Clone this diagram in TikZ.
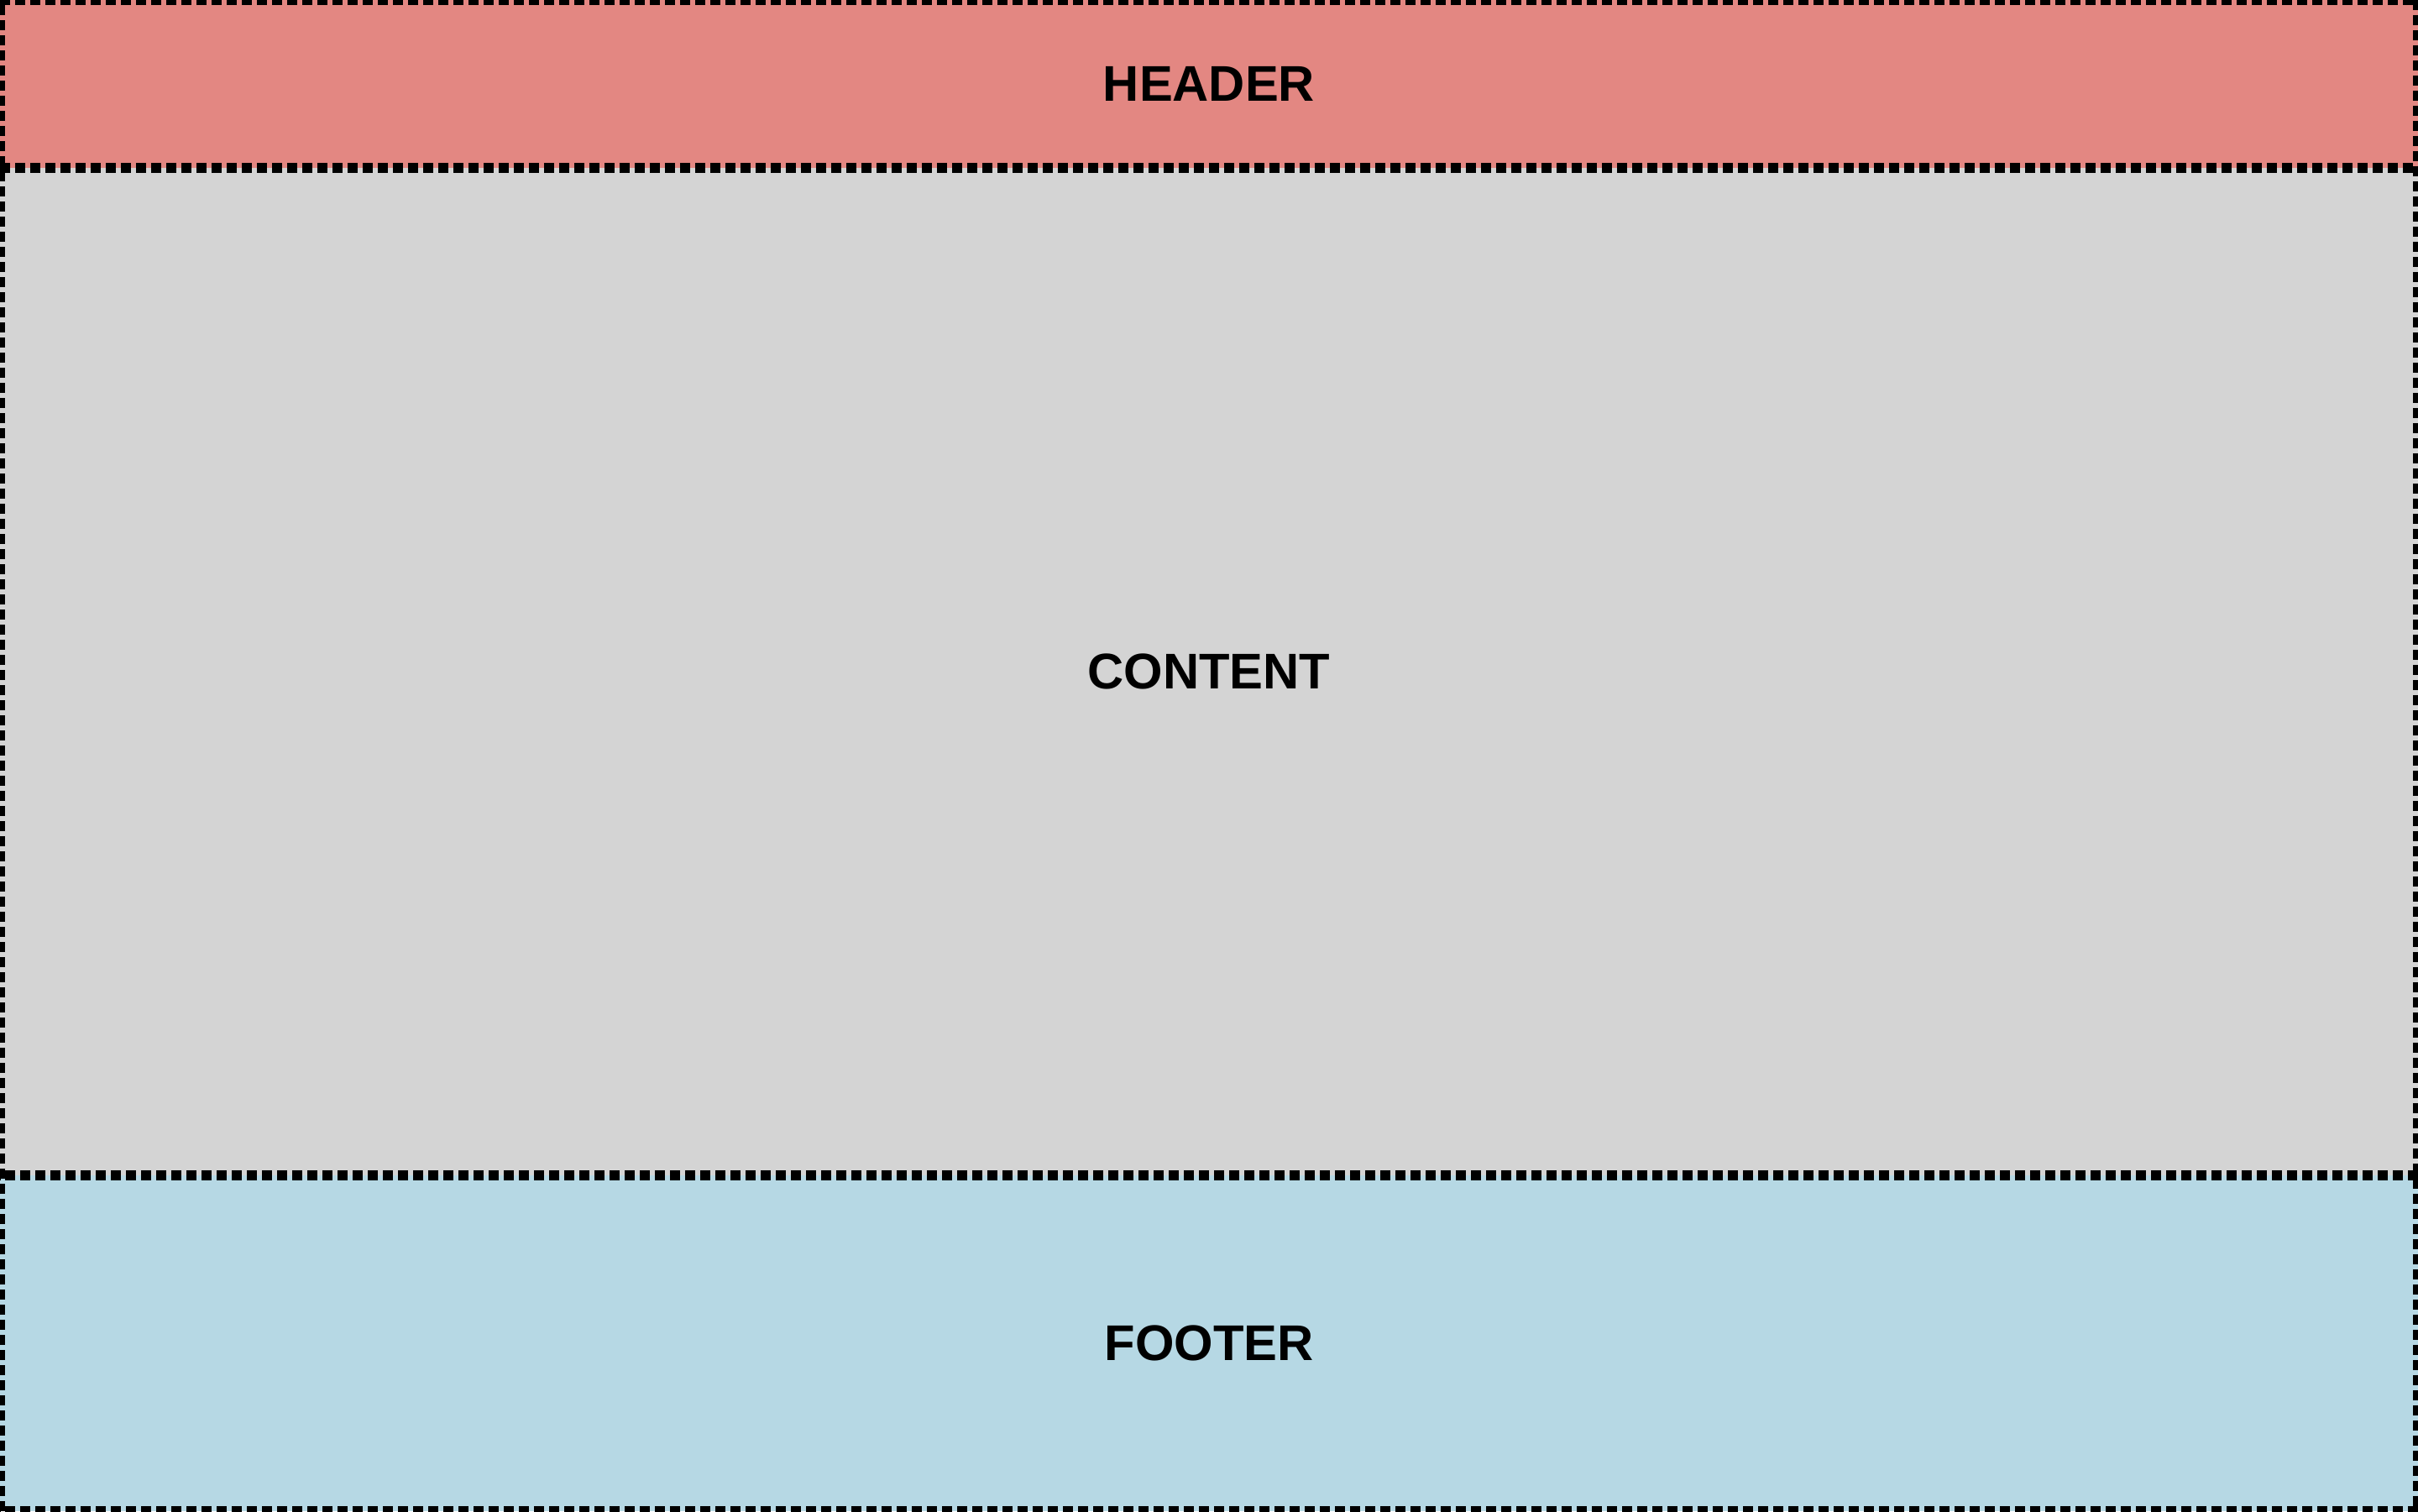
\documentclass[tikz,border=0pt]{standalone}
\usepackage{fontspec}
\setmainfont{Liberation Sans}
\definecolor{hdr}{HTML}{E38782}
\definecolor{cnt}{HTML}{D4D4D4}
\definecolor{ftr}{HTML}{B6D8E4}
\begin{document}
\begin{tikzpicture}
\tikzset{
  band/.style={minimum width=28.8cm, inner sep=0pt, outer sep=0pt, draw=none,
    font=\fontsize{17}{20}\selectfont\bfseries, text=black},
  border/.style={draw=black, line width=0.12cm, dash pattern=on 0.12cm off 0.06cm, line cap=butt}
}
\useasboundingbox (0,0) rectangle (28.8,18);
\node[band, fill=hdr, minimum height=2cm] (h) at (14.4,17) {HEADER};
\node[band, fill=cnt, minimum height=12cm] (c) at (14.4,10) {CONTENT};
\node[band, fill=ftr, minimum height=4cm] (f) at (14.4,2) {FOOTER};
% borders
\draw[border] (h.north west) -- (h.north east);
\draw[border] (c.north west) -- (c.north east);
\draw[border] (c.south east) -- (c.south west);
\draw[border] (f.south east) -- (f.south west);
\draw[border] (h.north east) -- (f.south east);
\draw[border] (f.south west) -- (h.north west);
\end{tikzpicture}
\end{document}
